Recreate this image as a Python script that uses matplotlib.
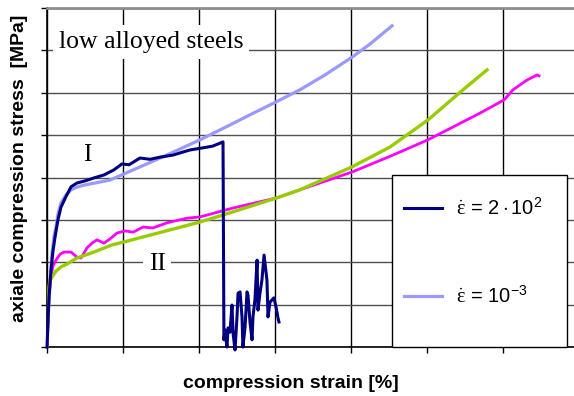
import matplotlib
matplotlib.use("Agg")
import matplotlib.pyplot as plt
from matplotlib.patches import Rectangle
from matplotlib.ticker import MultipleLocator, NullFormatter

plt.rcParams["font.family"] = ["Liberation Sans", "DejaVu Sans"]
plt.rcParams["mathtext.fontset"] = "custom"
plt.rcParams["mathtext.rm"] = "Liberation Sans"
plt.rcParams["mathtext.it"] = "Liberation Serif"

# curve I, strain rate 2e2 (fast) -- strain [%], stress [MPa]
fast_I_x = [0, 0.07, 0.13, 0.26, 0.39, 0.53, 0.72, 0.92, 1.25, 1.58, 1.97, 2.5, 3.09,
            3.75, 4.4, 4.93, 5.4, 6.12, 6.78, 7.43, 8.3, 8.75, 9.41, 10.26, 10.9, 11.38,
            11.58, 11.64, 11.71, 11.84, 11.91, 12.04, 12.17, 12.24, 12.37, 12.5, 12.57,
            12.7, 12.83, 12.89, 13.03, 13.16, 13.22, 13.36, 13.49, 13.55, 13.68, 13.82,
            13.88, 14.01, 14.14, 14.28, 14.47, 14.54, 14.67, 14.8, 14.93, 15.07, 15.2, 15.26]
fast_I_y = [0, 64, 118, 180, 225, 260, 300, 330, 355, 378, 387, 392, 399,
            406, 418, 432, 430, 446, 443, 448, 453, 458, 465, 470, 474, 481,
            484, 17, 40, 0, 45, 35, 99, 33, -7, 71, 127,
            130, 71, 0, 47, 130, 123, 57, 17, 71, 111, 205,
            87, 127, 158, 217, 158, 71, 106, 111, 116, 94, 68, 59]

# curve I, strain rate 1e-3 (slow)
slow_I_x = [0, 0.07, 0.13, 0.2, 0.33, 0.46, 0.59, 0.72, 0.92, 1.25, 1.58, 2.04, 2.43,
            3.16, 4.14, 6.12, 7.76, 10.07, 12.04, 13.36, 15.33, 16.64, 18.29, 20.07,
            21.25, 22.7]
slow_I_y = [0, 64, 104, 151, 222, 260, 283, 314, 340, 359, 371, 378, 382,
            387, 394, 425, 451, 489, 524, 548, 583, 607, 642, 684,
            715, 758]

# curve II, fast
fast_II_x = [0, 0.07, 0.13, 0.26, 0.39, 0.59, 0.86, 1.12, 1.58, 1.97, 2.24, 2.63, 2.96,
             3.29, 3.75, 4.21, 4.61, 5.13, 5.66, 6.32, 6.97, 7.89, 9.21, 10.07, 12.24,
             15.13, 16.64, 20.07, 22.57, 25.07, 28.49, 30.07, 30.66, 31.58, 32.24, 32.37]
fast_II_y = [0, 64, 118, 165, 191, 205, 219, 224, 224, 212, 210, 234, 245,
             253, 245, 257, 269, 274, 271, 283, 281, 293, 304, 307, 328,
             352, 371, 413, 450, 489, 552, 583, 607, 630, 642, 640]

# curve II, slow
slow_II_x = [0, 0.03, 0.07, 0.13, 0.2, 0.33, 0.59, 0.92, 1.32, 1.97, 3.09, 4.28, 5.07,
             6.78, 10.07, 12.24, 15.13, 16.64, 20.07, 22.57, 25.07, 27.37, 28.95]
slow_II_y = [0, 40, 87, 142, 158, 165, 179, 189, 196, 210, 224, 241, 248,
             264, 295, 319, 352, 371, 425, 472, 536, 607, 654]

fig = plt.figure(figsize=(5.74, 3.96), dpi=100)
ax = fig.add_axes([47 / 574, 49 / 396, 532 / 574, 339 / 396])

ax.set_xlim(0, 35)
ax.set_ylim(0, 800)
ax.xaxis.set_major_locator(MultipleLocator(5))
ax.yaxis.set_major_locator(MultipleLocator(100))
ax.xaxis.set_major_formatter(NullFormatter())
ax.yaxis.set_major_formatter(NullFormatter())
ax.tick_params(direction="out", length=4, width=1, color="black")
ax.grid(axis="x", color="black", lw=1.0)
ax.grid(axis="y", color="#505050", lw=1.0)
ax.set_axisbelow(True)
for side in ("left", "bottom"):
    ax.spines[side].set_color("black")
    ax.spines[side].set_linewidth(1.2)
ax.spines["top"].set_color("#8c8c8c")
ax.spines["top"].set_linewidth(2)
ax.spines["right"].set_visible(False)

ax.plot(slow_I_x, slow_I_y, color="#9999ff", lw=2.3, label=r"$\dot{\varepsilon}\,=\,10^{-3}$", zorder=3)
ax.plot(fast_I_x, fast_I_y, color="#000080", lw=2.2, label=r"$\dot{\varepsilon}\,=\,2\cdot10^{2}$",
        zorder=4, clip_on=False)
ax.plot(fast_II_x, fast_II_y, color="#ff00ff", lw=2.0, zorder=3)
ax.plot(slow_II_x, slow_II_y, color="#99cc00", lw=2.4, zorder=3)

ax.text((151 - 47) / 532, (347 - 42) / 339, "low alloyed steels", transform=ax.transAxes,
        family="Liberation Serif", fontsize=18.5, ha="center", va="center",
        bbox=dict(facecolor="white", edgecolor="none", pad=4), zorder=2)
ax.text((87 - 47) / 532, (347 - 155) / 339, "I", transform=ax.transAxes,
        family="Liberation Serif", fontsize=18, ha="center", va="center", zorder=2)
ax.text((157 - 47) / 532, (347 - 264) / 339, "II", transform=ax.transAxes,
        family="Liberation Serif", fontsize=18, ha="center", va="center",
        bbox=dict(facecolor="white", edgecolor="none", pad=4), zorder=2)

ax.add_patch(Rectangle((345 / 532, 0), 175 / 532, 172 / 339, transform=ax.transAxes,
                       facecolor="white", edgecolor="black", lw=1, zorder=5, clip_on=False))
handles, labels = ax.get_legend_handles_labels()
leg = ax.legend(handles[::-1], labels[::-1], loc="upper left",
                bbox_to_anchor=((404 - 47) / 532, (347 - 198) / 339),
                frameon=False, fontsize=14.5, borderpad=0, borderaxespad=0,
                handlelength=1.9, handletextpad=0.7, labelspacing=3.3)
leg.set_zorder(6)

fig.text(291 / 574, 1 - 383 / 396, "compression strain [%]", fontsize=14,
         fontweight="bold", ha="center", va="center")
fig.text(20 / 574, 1 - 168 / 396, "axiale compression stress  [MPa]", fontsize=14,
         fontweight="bold", ha="center", va="center", rotation=90)

fig.savefig("out.png", dpi=100, facecolor="white")
